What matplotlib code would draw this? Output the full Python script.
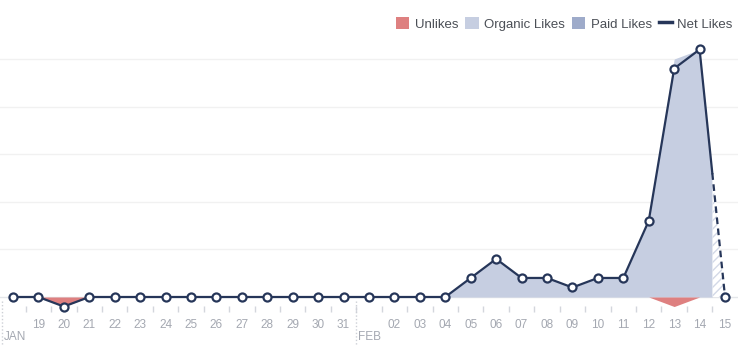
import numpy as np
import matplotlib
matplotlib.use("Agg")
import matplotlib.pyplot as plt
from matplotlib.patches import Patch
from matplotlib.lines import Line2D
from matplotlib.transforms import blended_transform_factory

plt.rcParams["font.family"] = ["Liberation Sans", "DejaVu Sans"]

# daily page likes, Jan 18 - Feb 15
day_labels = ["", "19", "20", "21", "22", "23", "24", "25", "26", "27", "28",
              "29", "30", "31", "", "02", "03", "04", "05", "06", "07", "08",
              "09", "10", "11", "12", "13", "14", "15"]
month_labels = ["JAN", "FEB"]
month_starts = [0, 14]

organic_likes = np.array([0, 0, 0, 0, 0, 0, 0, 0, 0, 0, 0, 0, 0, 0,
                          0, 0, 0, 0, 4, 8, 4, 4, 2, 4, 4, 16, 50, 52, 0])
paid_likes = np.array([0] * 29)
unlikes = np.array([0, 0, 2, 0, 0, 0, 0, 0, 0, 0, 0, 0, 0, 0,
                    0, 0, 0, 0, 0, 0, 0, 0, 0, 0, 0, 0, 2, 0, 0])
net_likes = organic_likes + paid_likes - unlikes

# last day is still incomplete: shown hatched / dashed from here on
partial_from = 27.5

NAVY = "#263659"
ORGANIC = "#c6cee1"
PAID = "#9eabca"
RED = "#de8080"
GRID = "#f1f1f1"
TEXT = "#a4a8b1"

fig = plt.figure(figsize=(7.53, 3.45), dpi=100)
ax = fig.add_axes([0, (345 - 306) / 345, 738 / 753, (306 - 40) / 345])

x = np.arange(len(net_likes))
xf = np.linspace(0, len(x) - 1, 2000)
org_f = np.interp(xf, x, organic_likes + paid_likes)
solid = xf <= partial_from

ax.fill_between(xf, 0, org_f, where=solid, color=ORGANIC, lw=0, zorder=1)
ax.fill_between(xf, 0, org_f, where=xf >= partial_from, facecolor="white",
                edgecolor="#d3d9e7", hatch="////", lw=0, zorder=1)
ax.fill_between(x, 0, -unlikes, color=RED, lw=0, zorder=1)

for v in [10, 20, 30, 40, 50]:
    ax.axhline(v, color=GRID, lw=1, zorder=0)
ax.axhline(0, color="#e4e6ea", lw=1, zorder=0)

# net likes line, dashed over the incomplete part
net_cut = np.interp(partial_from, x, net_likes)
xs = np.append(x[x <= partial_from], partial_from)
ys = np.append(net_likes[x <= partial_from], net_cut)
ax.plot(xs, ys, color=NAVY, lw=1.6, zorder=3, clip_on=False)
ax.plot([partial_from, x[-1]], [net_cut, net_likes[-1]], color=NAVY, lw=1.6,
        ls=(0, (3, 2)), zorder=3, clip_on=False)
ax.plot(x, net_likes, ls="none", marker="o", ms=5.8, mfc="white", mec=NAVY,
        mew=1.6, zorder=4, clip_on=False)

ax.set_xlim(-0.51, 28.51)
ax.set_ylim(-(306 - 297) / 4.76, (297 - 40) / 4.76)
for s in ax.spines.values():
    s.set_visible(False)
ax.set_yticks([])
ax.set_xticks(x)
ax.set_xticklabels(day_labels, fontsize=8.5, color=TEXT)
ax.tick_params(axis="x", which="major", length=0, pad=9)
ax.set_xticks(x[:-1] + 0.5, minor=True)
ax.tick_params(axis="x", which="minor", length=4, width=1, color="#d3d6dc")

# month separators and labels
trans = blended_transform_factory(ax.transData, ax.transAxes)
for start, name in zip(month_starts, month_labels):
    sep = start - 0.42 if start == 0 else start - 0.5
    ax.plot([sep, sep], [0.02, -0.15], transform=trans, color="#cdd0d6",
            lw=1, ls=(0, (1, 1.5)), clip_on=False)
    ax.text(sep + 0.08, -0.115, name, transform=trans, fontsize=8.5,
            color=TEXT, ha="left", va="center")

handles = [Patch(facecolor=RED, edgecolor="none"),
           Patch(facecolor=ORGANIC, edgecolor="none"),
           Patch(facecolor=PAID, edgecolor="none"),
           Line2D([], [], color=NAVY, lw=2.5)]
fig.legend(handles, ["Unlikes", "Organic Likes", "Paid Likes", "Net Likes"],
           loc="upper right", bbox_to_anchor=(742 / 753, 1 - 8 / 345),
           ncol=4, frameon=False, fontsize=9.5, handlelength=1.0,
           handleheight=1.0, handletextpad=0.4, columnspacing=0.55,
           labelcolor="#4b4f56", borderpad=0.2)

fig.savefig("out.png", dpi=100)
